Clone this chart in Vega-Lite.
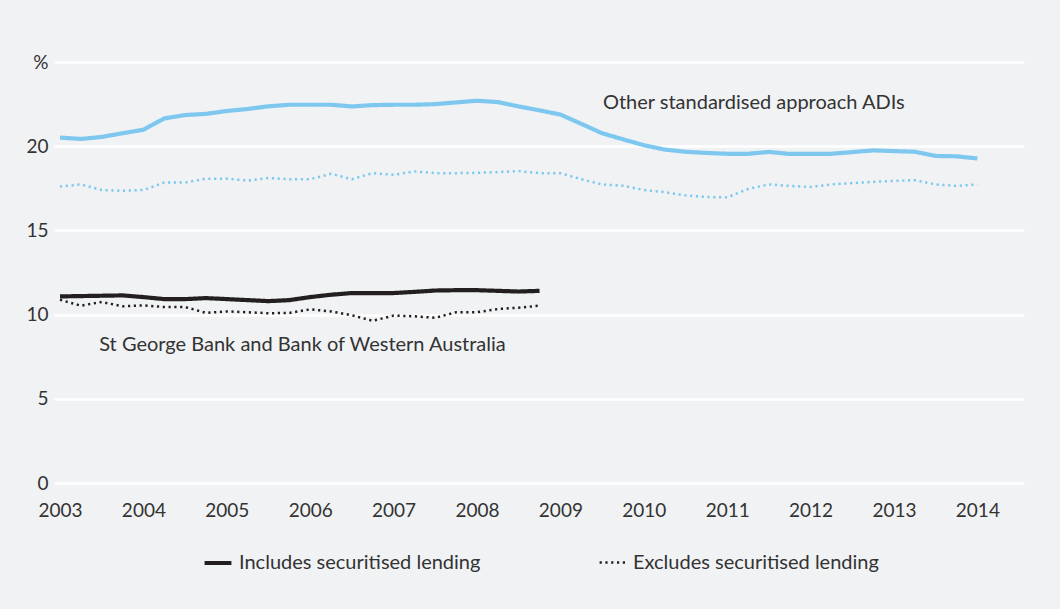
{
  "$schema": "https://vega.github.io/schema/vega-lite/v6.json",
  "width": 970,
  "height": 421,
  "autosize": {"type": "none"},
  "padding": {"left": 54, "top": 62, "right": 36, "bottom": 126},
  "background": "#f1f2f4",
  "config": {
    "view": {"stroke": null},
    "font": "Lato",
    "axis": {"labelFont": "Lato", "labelColor": "#333333", "labelFontSize": 19, "domain": false, "ticks": false, "title": null},
    "legend": {"labelFont": "Lato", "labelColor": "#333333", "labelFontSize": 20}
  },
  "layer": [
    {
      "data": {"values": [
        {"date": 2003.00, "value": 20.51, "group": "Other", "type": "Includes securitised lending"},
        {"date": 2003.25, "value": 20.43, "group": "Other", "type": "Includes securitised lending"},
        {"date": 2003.50, "value": 20.55, "group": "Other", "type": "Includes securitised lending"},
        {"date": 2003.75, "value": 20.77, "group": "Other", "type": "Includes securitised lending"},
        {"date": 2004.00, "value": 20.98, "group": "Other", "type": "Includes securitised lending"},
        {"date": 2004.25, "value": 21.65, "group": "Other", "type": "Includes securitised lending"},
        {"date": 2004.50, "value": 21.85, "group": "Other", "type": "Includes securitised lending"},
        {"date": 2004.75, "value": 21.92, "group": "Other", "type": "Includes securitised lending"},
        {"date": 2005.00, "value": 22.09, "group": "Other", "type": "Includes securitised lending"},
        {"date": 2005.25, "value": 22.21, "group": "Other", "type": "Includes securitised lending"},
        {"date": 2005.50, "value": 22.37, "group": "Other", "type": "Includes securitised lending"},
        {"date": 2005.75, "value": 22.46, "group": "Other", "type": "Includes securitised lending"},
        {"date": 2006.00, "value": 22.46, "group": "Other", "type": "Includes securitised lending"},
        {"date": 2006.25, "value": 22.46, "group": "Other", "type": "Includes securitised lending"},
        {"date": 2006.50, "value": 22.36, "group": "Other", "type": "Includes securitised lending"},
        {"date": 2006.75, "value": 22.44, "group": "Other", "type": "Includes securitised lending"},
        {"date": 2007.00, "value": 22.46, "group": "Other", "type": "Includes securitised lending"},
        {"date": 2007.25, "value": 22.46, "group": "Other", "type": "Includes securitised lending"},
        {"date": 2007.50, "value": 22.50, "group": "Other", "type": "Includes securitised lending"},
        {"date": 2007.75, "value": 22.60, "group": "Other", "type": "Includes securitised lending"},
        {"date": 2008.00, "value": 22.70, "group": "Other", "type": "Includes securitised lending"},
        {"date": 2008.25, "value": 22.62, "group": "Other", "type": "Includes securitised lending"},
        {"date": 2008.50, "value": 22.36, "group": "Other", "type": "Includes securitised lending"},
        {"date": 2008.75, "value": 22.13, "group": "Other", "type": "Includes securitised lending"},
        {"date": 2009.00, "value": 21.88, "group": "Other", "type": "Includes securitised lending"},
        {"date": 2009.25, "value": 21.33, "group": "Other", "type": "Includes securitised lending"},
        {"date": 2009.50, "value": 20.77, "group": "Other", "type": "Includes securitised lending"},
        {"date": 2009.75, "value": 20.41, "group": "Other", "type": "Includes securitised lending"},
        {"date": 2010.00, "value": 20.06, "group": "Other", "type": "Includes securitised lending"},
        {"date": 2010.25, "value": 19.80, "group": "Other", "type": "Includes securitised lending"},
        {"date": 2010.50, "value": 19.67, "group": "Other", "type": "Includes securitised lending"},
        {"date": 2010.75, "value": 19.60, "group": "Other", "type": "Includes securitised lending"},
        {"date": 2011.00, "value": 19.55, "group": "Other", "type": "Includes securitised lending"},
        {"date": 2011.25, "value": 19.55, "group": "Other", "type": "Includes securitised lending"},
        {"date": 2011.50, "value": 19.66, "group": "Other", "type": "Includes securitised lending"},
        {"date": 2011.75, "value": 19.54, "group": "Other", "type": "Includes securitised lending"},
        {"date": 2012.00, "value": 19.54, "group": "Other", "type": "Includes securitised lending"},
        {"date": 2012.25, "value": 19.55, "group": "Other", "type": "Includes securitised lending"},
        {"date": 2012.50, "value": 19.65, "group": "Other", "type": "Includes securitised lending"},
        {"date": 2012.75, "value": 19.75, "group": "Other", "type": "Includes securitised lending"},
        {"date": 2013.00, "value": 19.71, "group": "Other", "type": "Includes securitised lending"},
        {"date": 2013.25, "value": 19.67, "group": "Other", "type": "Includes securitised lending"},
        {"date": 2013.50, "value": 19.42, "group": "Other", "type": "Includes securitised lending"},
        {"date": 2013.75, "value": 19.40, "group": "Other", "type": "Includes securitised lending"},
        {"date": 2014.00, "value": 19.27, "group": "Other", "type": "Includes securitised lending"},

        {"date": 2003.00, "value": 17.60, "group": "Other", "type": "Excludes securitised lending"},
        {"date": 2003.25, "value": 17.73, "group": "Other", "type": "Excludes securitised lending"},
        {"date": 2003.50, "value": 17.40, "group": "Other", "type": "Excludes securitised lending"},
        {"date": 2003.75, "value": 17.35, "group": "Other", "type": "Excludes securitised lending"},
        {"date": 2004.00, "value": 17.40, "group": "Other", "type": "Excludes securitised lending"},
        {"date": 2004.25, "value": 17.84, "group": "Other", "type": "Excludes securitised lending"},
        {"date": 2004.50, "value": 17.84, "group": "Other", "type": "Excludes securitised lending"},
        {"date": 2004.75, "value": 18.07, "group": "Other", "type": "Excludes securitised lending"},
        {"date": 2005.00, "value": 18.07, "group": "Other", "type": "Excludes securitised lending"},
        {"date": 2005.25, "value": 17.96, "group": "Other", "type": "Excludes securitised lending"},
        {"date": 2005.50, "value": 18.11, "group": "Other", "type": "Excludes securitised lending"},
        {"date": 2005.75, "value": 18.04, "group": "Other", "type": "Excludes securitised lending"},
        {"date": 2006.00, "value": 18.04, "group": "Other", "type": "Excludes securitised lending"},
        {"date": 2006.25, "value": 18.36, "group": "Other", "type": "Excludes securitised lending"},
        {"date": 2006.50, "value": 18.04, "group": "Other", "type": "Excludes securitised lending"},
        {"date": 2006.75, "value": 18.40, "group": "Other", "type": "Excludes securitised lending"},
        {"date": 2007.00, "value": 18.30, "group": "Other", "type": "Excludes securitised lending"},
        {"date": 2007.25, "value": 18.50, "group": "Other", "type": "Excludes securitised lending"},
        {"date": 2007.50, "value": 18.40, "group": "Other", "type": "Excludes securitised lending"},
        {"date": 2007.75, "value": 18.40, "group": "Other", "type": "Excludes securitised lending"},
        {"date": 2008.00, "value": 18.42, "group": "Other", "type": "Excludes securitised lending"},
        {"date": 2008.25, "value": 18.46, "group": "Other", "type": "Excludes securitised lending"},
        {"date": 2008.50, "value": 18.52, "group": "Other", "type": "Excludes securitised lending"},
        {"date": 2008.75, "value": 18.40, "group": "Other", "type": "Excludes securitised lending"},
        {"date": 2009.00, "value": 18.40, "group": "Other", "type": "Excludes securitised lending"},
        {"date": 2009.25, "value": 18.04, "group": "Other", "type": "Excludes securitised lending"},
        {"date": 2009.50, "value": 17.73, "group": "Other", "type": "Excludes securitised lending"},
        {"date": 2009.75, "value": 17.65, "group": "Other", "type": "Excludes securitised lending"},
        {"date": 2010.00, "value": 17.40, "group": "Other", "type": "Excludes securitised lending"},
        {"date": 2010.25, "value": 17.27, "group": "Other", "type": "Excludes securitised lending"},
        {"date": 2010.50, "value": 17.08, "group": "Other", "type": "Excludes securitised lending"},
        {"date": 2010.75, "value": 16.98, "group": "Other", "type": "Excludes securitised lending"},
        {"date": 2011.00, "value": 16.96, "group": "Other", "type": "Excludes securitised lending"},
        {"date": 2011.25, "value": 17.46, "group": "Other", "type": "Excludes securitised lending"},
        {"date": 2011.50, "value": 17.73, "group": "Other", "type": "Excludes securitised lending"},
        {"date": 2011.75, "value": 17.64, "group": "Other", "type": "Excludes securitised lending"},
        {"date": 2012.00, "value": 17.58, "group": "Other", "type": "Excludes securitised lending"},
        {"date": 2012.25, "value": 17.73, "group": "Other", "type": "Excludes securitised lending"},
        {"date": 2012.50, "value": 17.81, "group": "Other", "type": "Excludes securitised lending"},
        {"date": 2012.75, "value": 17.88, "group": "Other", "type": "Excludes securitised lending"},
        {"date": 2013.00, "value": 17.94, "group": "Other", "type": "Excludes securitised lending"},
        {"date": 2013.25, "value": 17.98, "group": "Other", "type": "Excludes securitised lending"},
        {"date": 2013.50, "value": 17.73, "group": "Other", "type": "Excludes securitised lending"},
        {"date": 2013.75, "value": 17.64, "group": "Other", "type": "Excludes securitised lending"},
        {"date": 2014.00, "value": 17.73, "group": "Other", "type": "Excludes securitised lending"},

        {"date": 2003.00, "value": 11.08, "group": "StGeorge", "type": "Includes securitised lending"},
        {"date": 2003.25, "value": 11.10, "group": "StGeorge", "type": "Includes securitised lending"},
        {"date": 2003.50, "value": 11.12, "group": "StGeorge", "type": "Includes securitised lending"},
        {"date": 2003.75, "value": 11.14, "group": "StGeorge", "type": "Includes securitised lending"},
        {"date": 2004.00, "value": 11.04, "group": "StGeorge", "type": "Includes securitised lending"},
        {"date": 2004.25, "value": 10.92, "group": "StGeorge", "type": "Includes securitised lending"},
        {"date": 2004.50, "value": 10.92, "group": "StGeorge", "type": "Includes securitised lending"},
        {"date": 2004.75, "value": 10.98, "group": "StGeorge", "type": "Includes securitised lending"},
        {"date": 2005.00, "value": 10.92, "group": "StGeorge", "type": "Includes securitised lending"},
        {"date": 2005.25, "value": 10.86, "group": "StGeorge", "type": "Includes securitised lending"},
        {"date": 2005.50, "value": 10.80, "group": "StGeorge", "type": "Includes securitised lending"},
        {"date": 2005.75, "value": 10.86, "group": "StGeorge", "type": "Includes securitised lending"},
        {"date": 2006.00, "value": 11.04, "group": "StGeorge", "type": "Includes securitised lending"},
        {"date": 2006.25, "value": 11.18, "group": "StGeorge", "type": "Includes securitised lending"},
        {"date": 2006.50, "value": 11.28, "group": "StGeorge", "type": "Includes securitised lending"},
        {"date": 2006.75, "value": 11.28, "group": "StGeorge", "type": "Includes securitised lending"},
        {"date": 2007.00, "value": 11.28, "group": "StGeorge", "type": "Includes securitised lending"},
        {"date": 2007.25, "value": 11.35, "group": "StGeorge", "type": "Includes securitised lending"},
        {"date": 2007.50, "value": 11.43, "group": "StGeorge", "type": "Includes securitised lending"},
        {"date": 2007.75, "value": 11.45, "group": "StGeorge", "type": "Includes securitised lending"},
        {"date": 2008.00, "value": 11.45, "group": "StGeorge", "type": "Includes securitised lending"},
        {"date": 2008.25, "value": 11.41, "group": "StGeorge", "type": "Includes securitised lending"},
        {"date": 2008.50, "value": 11.37, "group": "StGeorge", "type": "Includes securitised lending"},
        {"date": 2008.75, "value": 11.41, "group": "StGeorge", "type": "Includes securitised lending"},

        {"date": 2003.00, "value": 10.88, "group": "StGeorge", "type": "Excludes securitised lending"},
        {"date": 2003.25, "value": 10.53, "group": "StGeorge", "type": "Excludes securitised lending"},
        {"date": 2003.50, "value": 10.75, "group": "StGeorge", "type": "Excludes securitised lending"},
        {"date": 2003.75, "value": 10.49, "group": "StGeorge", "type": "Excludes securitised lending"},
        {"date": 2004.00, "value": 10.55, "group": "StGeorge", "type": "Excludes securitised lending"},
        {"date": 2004.25, "value": 10.45, "group": "StGeorge", "type": "Excludes securitised lending"},
        {"date": 2004.50, "value": 10.45, "group": "StGeorge", "type": "Excludes securitised lending"},
        {"date": 2004.75, "value": 10.10, "group": "StGeorge", "type": "Excludes securitised lending"},
        {"date": 2005.00, "value": 10.19, "group": "StGeorge", "type": "Excludes securitised lending"},
        {"date": 2005.25, "value": 10.14, "group": "StGeorge", "type": "Excludes securitised lending"},
        {"date": 2005.50, "value": 10.08, "group": "StGeorge", "type": "Excludes securitised lending"},
        {"date": 2005.75, "value": 10.10, "group": "StGeorge", "type": "Excludes securitised lending"},
        {"date": 2006.00, "value": 10.31, "group": "StGeorge", "type": "Excludes securitised lending"},
        {"date": 2006.25, "value": 10.19, "group": "StGeorge", "type": "Excludes securitised lending"},
        {"date": 2006.50, "value": 9.96, "group": "StGeorge", "type": "Excludes securitised lending"},
        {"date": 2006.75, "value": 9.63, "group": "StGeorge", "type": "Excludes securitised lending"},
        {"date": 2007.00, "value": 9.94, "group": "StGeorge", "type": "Excludes securitised lending"},
        {"date": 2007.25, "value": 9.90, "group": "StGeorge", "type": "Excludes securitised lending"},
        {"date": 2007.50, "value": 9.81, "group": "StGeorge", "type": "Excludes securitised lending"},
        {"date": 2007.75, "value": 10.14, "group": "StGeorge", "type": "Excludes securitised lending"},
        {"date": 2008.00, "value": 10.14, "group": "StGeorge", "type": "Excludes securitised lending"},
        {"date": 2008.25, "value": 10.33, "group": "StGeorge", "type": "Excludes securitised lending"},
        {"date": 2008.50, "value": 10.41, "group": "StGeorge", "type": "Excludes securitised lending"},
        {"date": 2008.75, "value": 10.53, "group": "StGeorge", "type": "Excludes securitised lending"}
      ]},
      "mark": {"type": "line", "strokeCap": "butt", "strokeJoin": "round"},
      "encoding": {
        "x": {"field": "date", "type": "quantitative",
              "scale": {"domain": [2002.928, 2014.559], "nice": false, "zero": false},
              "axis": {"values": [2003, 2004, 2005, 2006, 2007, 2008, 2009, 2010, 2011, 2012, 2013, 2014], "format": "d", "grid": false, "labelPadding": 18, "labelFlush": false}},
        "y": {"field": "value", "type": "quantitative",
              "scale": {"domain": [0, 25], "nice": false},
              "axis": {"values": [0, 5, 10, 15, 20, 25], "grid": true, "gridColor": "#ffffff", "gridWidth": 2.5, "gridOpacity": 1, "labelPadding": 6,
                       "labelExpr": "datum.value == 25 ? '%' : datum.label"}},
        "color": {"field": "group", "type": "nominal",
                  "scale": {"domain": ["Other", "StGeorge"], "range": ["#7ec8ef", "#231f20"]}, "legend": null},
        "strokeWidth": {"field": "type", "type": "nominal",
                  "scale": {"domain": ["Includes securitised lending", "Excludes securitised lending"], "range": [4.2, 2.5]}, "legend": null},
        "strokeDash": {"field": "type", "type": "nominal",
                  "scale": {"domain": ["Includes securitised lending", "Excludes securitised lending"], "range": [[1, 0], [2.2, 3.6]]},
                  "legend": {"title": null, "orient": "none", "legendX": 148, "legendY": 485, "direction": "horizontal", "symbolType": "stroke", "symbolSize": 720,
                             "symbolStrokeColor": "#231f20", "symbolStrokeWidth": 4, "columnPadding": 113, "labelOffset": 5, "labelLimit": 400}}
      }
    },
    {
      "data": {"values": [
        {"date": 2009.51, "value": 22.54, "label": "Other standardised approach ADIs"},
        {"date": 2003.47, "value": 8.22, "label": "St George Bank and Bank of Western Australia"}
      ]},
      "mark": {"type": "text", "align": "left", "baseline": "middle", "font": "Lato", "fontSize": 20, "color": "#333333"},
      "encoding": {
        "x": {"field": "date", "type": "quantitative"},
        "y": {"field": "value", "type": "quantitative"},
        "text": {"field": "label"}
      }
    }
  ]
}
